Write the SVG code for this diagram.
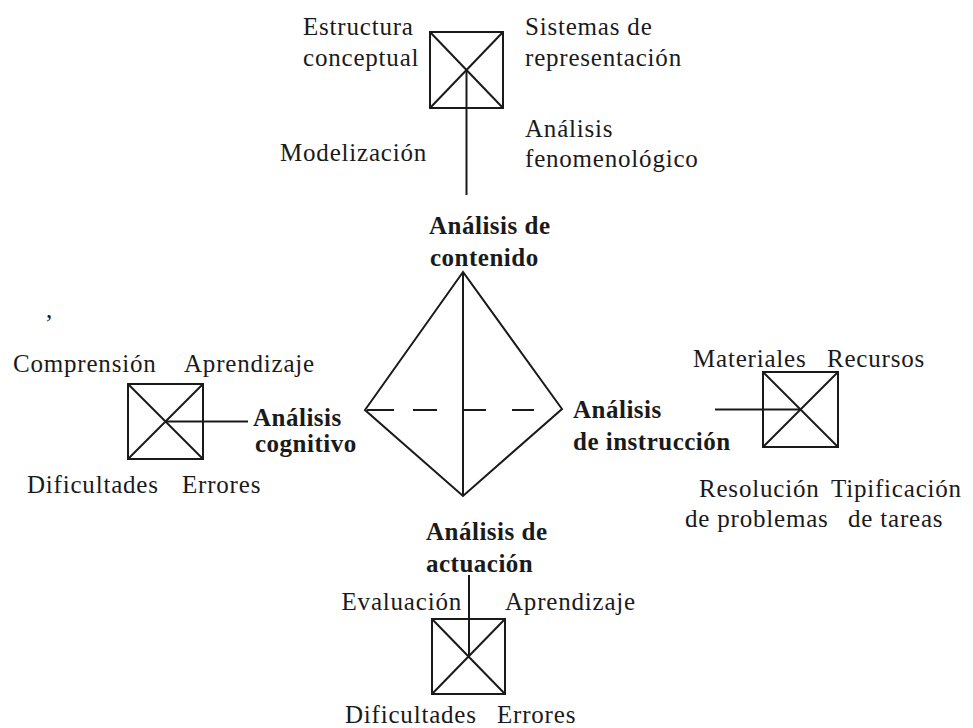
<svg xmlns="http://www.w3.org/2000/svg" width="973" height="728" viewBox="0 0 973 728">
<style>
text{font-family:"Liberation Serif","Times New Roman",serif;font-size:25px;fill:#1a1a1a;letter-spacing:0.8px}
text.b{font-weight:bold;letter-spacing:0.5px}
.ln{stroke:#1a1a1a;stroke-width:2;fill:none}
</style>
<rect width="973" height="728" fill="#ffffff"/>
<g id="connectors">
<line class="ln" x1="466.5" y1="70" x2="466.5" y2="195"/>
<line class="ln" x1="165.5" y1="421.5" x2="248" y2="421.5"/>
<line class="ln" x1="715" y1="409.5" x2="800.5" y2="409.5"/>
<line class="ln" x1="469" y1="575" x2="469" y2="656.5"/>
</g>
<g id="tetraedro">
<polygon class="ln" points="463,272 365,410 463,496 562,409"/>
<line class="ln" x1="463" y1="272" x2="463" y2="496"/>
<path class="ln" d="M367,410H394M413,410H437M463,410H486M512,410H534"/>
</g>
<g id="analisis-contenido">
<text class="b" x="429" y="234">Análisis de</text>
<text class="b" x="430" y="266">contenido</text>
</g>
<g id="caja-contenido">
<rect class="ln" x="430" y="32" width="73" height="76"/>
<line class="ln" x1="430" y1="32" x2="503" y2="108"/>
<line class="ln" x1="503" y1="32" x2="430" y2="108"/>
<text x="303" y="35">Estructura</text>
<text x="303" y="66">conceptual</text>
<text x="525" y="35">Sistemas de</text>
<text x="525" y="66">representación</text>
<text x="525" y="137">Análisis</text>
<text x="525" y="167">fenomenológico</text>
<text x="280" y="161">Modelización</text>
</g>
<g id="analisis-cognitivo">
<text class="b" x="253" y="426">Análisis</text>
<text class="b" x="255" y="452">cognitivo</text>
</g>
<g id="caja-cognitivo">
<rect class="ln" x="128" y="384" width="75" height="75"/>
<line class="ln" x1="128" y1="384" x2="203" y2="459"/>
<line class="ln" x1="203" y1="384" x2="128" y2="459"/>
<text x="13" y="372">Comprensión</text>
<text x="184" y="372">Aprendizaje</text>
<text x="27" y="493">Dificultades</text>
<text x="182" y="493">Errores</text>
<text x="46" y="318">,</text>
</g>
<g id="analisis-instruccion">
<text class="b" x="573" y="418">Análisis</text>
<text class="b" x="573" y="450">de instrucción</text>
</g>
<g id="caja-instruccion">
<rect class="ln" x="763" y="372" width="75" height="75"/>
<line class="ln" x1="763" y1="372" x2="838" y2="447"/>
<line class="ln" x1="838" y1="372" x2="763" y2="447"/>
<text x="693" y="367">Materiales</text>
<text x="827" y="367">Recursos</text>
<text x="699" y="497">Resolución</text>
<text x="831" y="497">Tipificación</text>
<text x="685" y="527">de problemas</text>
<text x="848" y="527">de tareas</text>
</g>
<g id="analisis-actuacion">
<text class="b" x="426" y="540">Análisis de</text>
<text class="b" x="426" y="572">actuación</text>
</g>
<g id="caja-actuacion">
<rect class="ln" x="432" y="619" width="73" height="75"/>
<line class="ln" x1="432" y1="619" x2="505" y2="694"/>
<line class="ln" x1="505" y1="619" x2="432" y2="694"/>
<text x="462" y="610" text-anchor="end">Evaluación</text>
<text x="505" y="610">Aprendizaje</text>
<text x="345" y="723">Dificultades</text>
<text x="497" y="723">Errores</text>
</g>
</svg>
